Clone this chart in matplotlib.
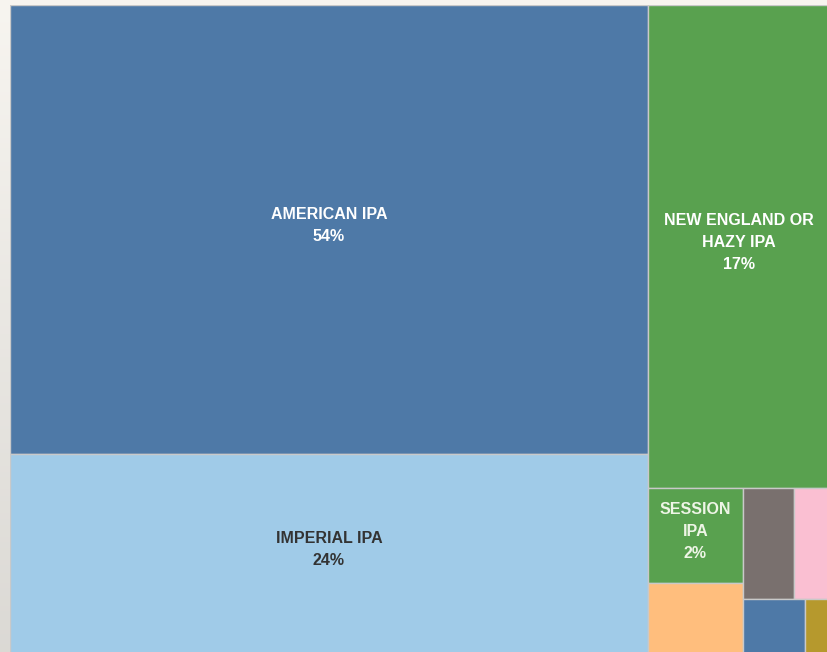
import matplotlib
matplotlib.use("Agg")
import matplotlib.pyplot as plt
from matplotlib.patches import Rectangle
import numpy as np

# ---- data (share of IPA styles, %) ----
categories = ["AMERICAN IPA", "IMPERIAL IPA", "NEW ENGLAND OR\nHAZY IPA", "SESSION IPA",
              "OTHER A", "OTHER B", "OTHER C", "OTHER D", "OTHER E"]
values = [54.0, 24.0, 16.6, 1.69, 1.26, 1.08, 0.75, 0.63, 0.25]
labels = ["AMERICAN IPA\n54%", "IMPERIAL IPA\n24%", "NEW ENGLAND OR\nHAZY IPA\n17%",
          "SESSION\nIPA\n2%", "", "", "", "", ""]
colors = ["#4E79A7", "#A0CBE8", "#59A14F", "#59A14F", "#FFBE7D",
          "#79706E", "#FABFD2", "#4E79A7", "#B6992D"]
text_colors = ["white", "#333333", "white", "#eef5e6", "white", "white", "white", "white", "white"]

# layout tree: (direction, children); leaf = index
tree = ("h", [("v", [0, 1]),
              ("v", [2, ("h", [("v", [3, 4]),
                               ("v", [("h", [5, 6]), ("h", [7, 8])])])])])


def total(node):
    if isinstance(node, int):
        return values[node]
    return sum(total(c) for c in node[1])


def layout(node, x, y, w, h, out):
    if isinstance(node, int):
        out[node] = (x, y, w, h)
        return
    d, children = node
    s = total(node)
    pos = 0.0
    for c in children:
        f = total(c) / s
        if d == "h":
            layout(c, x + pos * w, y, w * f, h, out)
        else:
            layout(c, x, y + pos * h, w, h * f, out)
        pos += f


rects = {}
layout(tree, 0.0, 0.0, 1.0, 1.0, rects)

W, H = 827, 652
fig = plt.figure(figsize=(W / 100, H / 100), dpi=100, facecolor="#ebe9e6")

# faint backdrop gradient behind the treemap
bg = fig.add_axes([0, 0, 1, 1], zorder=0)
grad = np.linspace(0.97, 0.86, 256).reshape(-1, 1)
bg.imshow(np.dstack([grad, grad * 0.99, grad * 0.97]), aspect="auto", extent=[0, 1, 0, 1])
bg.axis("off")

x0, y0, x1, y1 = 10, 5, 830, 653
ax = fig.add_axes([x0 / W, 1 - y1 / H, (x1 - x0) / W, (y1 - y0) / H], zorder=1)
ax.set_xlim(0, 1)
ax.set_ylim(1, 0)
ax.axis("off")

for i, (x, y, w, h) in rects.items():
    ax.add_patch(Rectangle((x, y), w, h, facecolor=colors[i], edgecolor="#c9c9c9", linewidth=1.0))
    if labels[i]:
        ax.text(x + w / 2, y + h / 2 - 0.006, labels[i], ha="center", va="center",
                color=text_colors[i], fontsize=11.5, fontweight="bold",
                family="Liberation Sans", linespacing=1.6)

fig.savefig("out.png", dpi=100, facecolor=fig.get_facecolor())
